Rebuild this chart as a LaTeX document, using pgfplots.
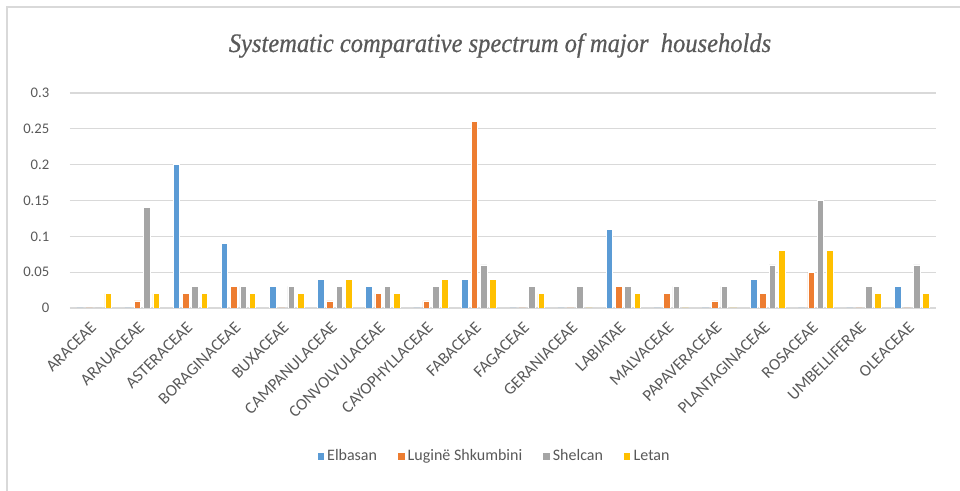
\documentclass[border=0pt]{standalone}
\usepackage{pgfplots}
\pgfplotsset{compat=1.18}
\usepackage{fontspec}
\setmainfont{Carlito}
\newfontfamily\titlefont[FakeBold=0.6]{Liberation Serif}
\definecolor{cBlue}{HTML}{5B9BD5}
\definecolor{cOrange}{HTML}{ED7D31}
\definecolor{cGray}{HTML}{A5A5A5}
\definecolor{cGold}{HTML}{FFC000}
\definecolor{txt}{HTML}{595959}
\definecolor{gridc}{HTML}{D9D9D9}
\begin{document}
\begin{tikzpicture}
\useasboundingbox (-52.5pt,-137.25pt) rectangle (667.5pt,231pt);
\draw[draw=gridc, line width=1.2pt] (-47.25pt,-137.25pt) -- (-47.25pt,225.75pt) -- (667.5pt,225.75pt);
\node[text=txt, anchor=base] at (322.5pt,192pt) {\scalebox{0.92}[1]{\titlefont\itshape\fontsize{20}{24}\selectfont Systematic comparative spectrum of major\ \ households}};
\begin{axis}[
  at={(0pt,0pt)}, anchor=south west,
  scale only axis, width=649.5pt, height=161.25pt,
  ybar=2.1pt, bar width=4.9pt,
  xmin=-0.5, xmax=17.5, ymin=0, ymax=0.3,
  xtick=data,
  xticklabels={ARACEAE,ARAUACEAE,ASTERACEAE,BORAGINACEAE,BUXACEAE,CAMPANULACEAE,CONVOLVULACEAE,CAYOPHYLLACEAE,FABACEAE,FAGACEAE,GERANIACEAE,LABIATAE,MALVACEAE,PAPAVERACEAE,PLANTAGINACEAE,ROSACEAE,UMBELLIFERAE,OLEACEAE},
  xticklabel style={xshift=2pt, yshift=-10pt, rotate=45, anchor=east, font=\fontsize{12.5}{13}\selectfont, text=txt},
  ytick={0,0.05,0.1,0.15,0.2,0.25,0.3},
  yticklabels={0,0.05,0.1,0.15,0.2,0.25,0.3},
  yticklabel style={font=\fontsize{11}{12}\selectfont, text=txt, xshift=-12pt},
  major tick length=0pt,
  ymajorgrids, xmajorgrids=false, grid style={draw=gridc, line width=0.9pt},
  axis x line*=bottom, axis y line*=left,
  x axis line style={draw=gridc, line width=0.9pt},
  y axis line style={draw=none},
  legend style={at={(0.49,-0.69)}, anchor=center, draw=none, legend columns=-1, font=\fontsize{12}{13}\selectfont, text=txt, /tikz/every even column/.append style={column sep=13pt}},
  legend image code/.code={\fill[#1] (0pt,-2.8pt) rectangle (5.6pt,2.8pt);},
]
\addplot[fill=cBlue, draw=white, line width=0.4pt] coordinates {(0,0) (1,0) (2,0.2) (3,0.09) (4,0.03) (5,0.04) (6,0.03) (7,0) (8,0.04) (9,0) (10,0) (11,0.11) (12,0) (13,0) (14,0.04) (15,0) (16,0) (17,0.03)};
\addplot[fill=cOrange, draw=white, line width=0.4pt] coordinates {(0,0) (1,0.01) (2,0.02) (3,0.03) (4,0) (5,0.01) (6,0.02) (7,0.01) (8,0.26) (9,0) (10,0) (11,0.03) (12,0.02) (13,0.01) (14,0.02) (15,0.05) (16,0) (17,0)};
\addplot[fill=cGray, draw=white, line width=0.4pt] coordinates {(0,0) (1,0.14) (2,0.03) (3,0.03) (4,0.03) (5,0.03) (6,0.03) (7,0.03) (8,0.06) (9,0.03) (10,0.03) (11,0.03) (12,0.03) (13,0.03) (14,0.06) (15,0.15) (16,0.03) (17,0.06)};
\addplot[fill=cGold, draw=white, line width=0.4pt] coordinates {(0,0.02) (1,0.02) (2,0.02) (3,0.02) (4,0.02) (5,0.04) (6,0.02) (7,0.04) (8,0.04) (9,0.02) (10,0) (11,0.02) (12,0) (13,0) (14,0.08) (15,0.08) (16,0.02) (17,0.02)};
\legend{Elbasan,Luginë Shkumbini,Shelcan,Letan}
\end{axis}
\end{tikzpicture}
\end{document}
